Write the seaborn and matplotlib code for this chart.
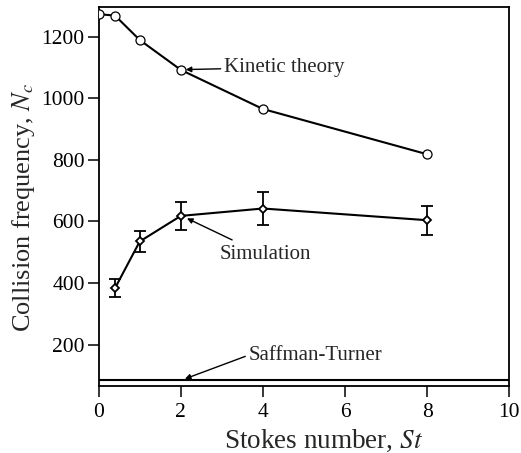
import matplotlib
matplotlib.use("Agg")
import matplotlib.pyplot as plt
import seaborn as sns
import pandas as pd

# Data
kin_st = [0.0, 0.4, 1.0, 2.0, 4.0, 8.0]
kin_nc = [1273, 1268, 1189, 1092, 965, 818]

sim_st = [0.4, 1.0, 2.0, 4.0, 8.0]
sim_nc = [384, 535, 618, 642, 604]
sim_err = [30, 33, 45, 52, 47]

st_line_x = [0.0, 10.0]
st_line_y = [86, 86]

xticks = [0, 2, 4, 6, 8, 10]
yticks = [200, 400, 600, 800, 1000, 1200]

sns.set_style("ticks")
plt.rcParams['font.family'] = ['Liberation Serif', 'DejaVu Serif']
plt.rcParams['mathtext.fontset'] = 'stix'

fig = plt.figure(figsize=(5.21, 4.53), dpi=100)
ax = fig.add_axes([0.1894, 0.148, 0.7882, 0.8365])

kin_df = pd.DataFrame({"St": kin_st, "Nc": kin_nc})
sim_df = pd.DataFrame({"St": sim_st, "Nc": sim_nc})
st_df = pd.DataFrame({"St": st_line_x, "Nc": st_line_y})

sns.lineplot(data=kin_df, x="St", y="Nc", ax=ax, color="black", lw=1.5,
             marker="o", markersize=6.5, markerfacecolor="white",
             markeredgecolor="black", markeredgewidth=0.9, zorder=3)
sns.lineplot(data=sim_df, x="St", y="Nc", ax=ax, color="black", lw=1.5,
             marker="D", markersize=4, markerfacecolor="white",
             markeredgecolor="black", markeredgewidth=1.3, zorder=3)
ax.errorbar(sim_st, sim_nc, yerr=sim_err, fmt="none", ecolor="black",
            elinewidth=1.3, capsize=4.5, capthick=1.3, zorder=2)
sns.lineplot(data=st_df, x="St", y="Nc", ax=ax, color="black", lw=1.5)

ax.set_xlim(0, 10)
ax.set_ylim(66, 1296)
ax.set_xticks(xticks)
ax.set_yticks(yticks)
ax.tick_params(direction="out", length=8, width=1.1, labelsize=15.5, colors="black", pad=2)
ax.tick_params(axis="x", pad=4)
for s in ax.spines.values():
    s.set_linewidth(1.3)
    s.set_color("black")

ax.set_xlabel("Stokes number, $\\mathit{St}$", fontsize=19.5)
ax.set_ylabel("Collision frequency, $\\mathit{N_c}$", fontsize=19)
ax.xaxis.set_label_coords(0.5475, -0.11)
ax.yaxis.set_label_coords(-0.150, 0.472)

arrowprops = dict(arrowstyle="-|>", color="black", lw=1.0, mutation_scale=8,
                  shrinkA=0, shrinkB=0)
ax.annotate("Kinetic theory", xy=(2.12, 1093), xytext=(3.05, 1100),
            fontsize=15, va="center", ha="left", arrowprops=arrowprops)
ax.annotate("Simulation", xy=(2.15, 608), xytext=(2.95, 492),
            fontsize=15, va="center", ha="left")
ax.annotate("", xy=(2.15, 610), xytext=(3.25, 540), arrowprops=arrowprops)
ax.annotate("Saffman-Turner", xy=(2.1, 89), xytext=(3.65, 165),
            fontsize=15, va="center", ha="left")
ax.annotate("", xy=(2.1, 89), xytext=(3.57, 162), arrowprops=arrowprops)

fig.savefig("out.png", dpi=100)
